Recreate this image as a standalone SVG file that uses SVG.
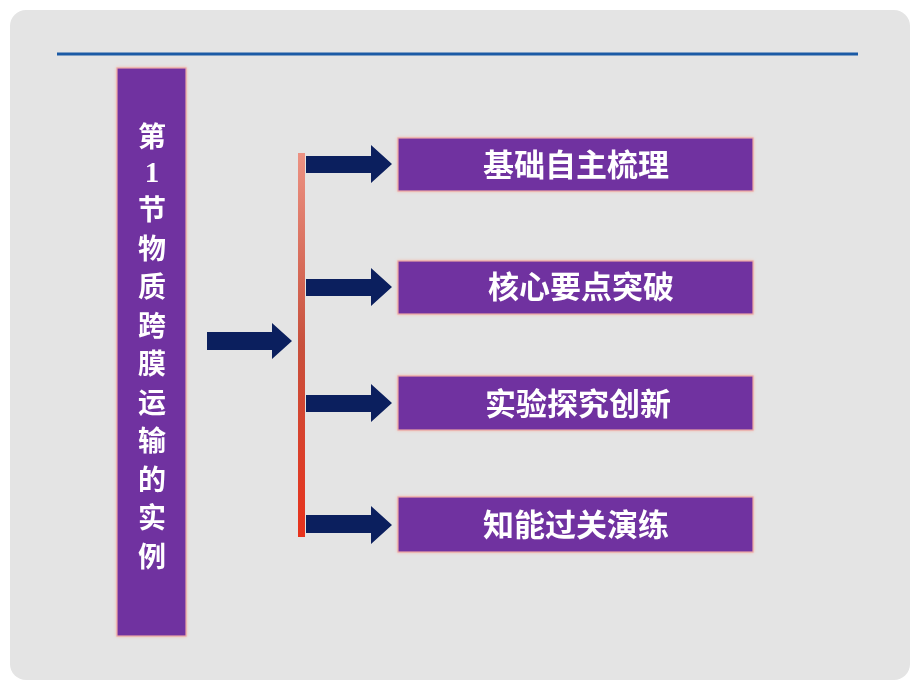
<svg xmlns="http://www.w3.org/2000/svg" width="920" height="690" viewBox="0 0 920 690">
  <defs>
    <linearGradient id="barGrad" x1="0" y1="0" x2="0" y2="1">
      <stop offset="0" stop-color="#ec9283"/>
      <stop offset="0.5" stop-color="#c8503c"/>
      <stop offset="1" stop-color="#e8321c"/>
    </linearGradient>
    <filter id="glow" x="-10%" y="-10%" width="120%" height="120%">
      <feGaussianBlur in="SourceAlpha" stdDeviation="1.5" result="b"/>
      <feFlood flood-color="#f4b8a8" result="c"/>
      <feComposite in="c" in2="b" operator="in" result="g"/>
      <feMerge><feMergeNode in="g"/><feMergeNode in="SourceGraphic"/></feMerge>
    </filter>
  </defs>
  <style>
    .box { fill: #7030a0; stroke: #e9a6a6; stroke-width: 1.2; }
    .arrow { fill: #0b1f5e; }
    .label { fill: #ffffff; font-family: "Noto Sans CJK SC", "Noto Sans", sans-serif; font-weight: bold; font-size: 31px; text-anchor: middle; }
    .vtext { fill: #ffffff; font-family: "Noto Sans CJK SC", sans-serif; font-weight: bold; font-size: 28px; text-anchor: middle; }
    .vdigit { fill: #ffffff; font-family: "Liberation Serif", serif; font-weight: bold; font-size: 29px; text-anchor: middle; }
  </style>

  <rect x="0" y="0" width="920" height="690" fill="#ffffff"/>
  <rect x="10" y="10" width="900" height="670" rx="16" ry="16" fill="#e4e4e4"/>

  <line x1="57" y1="54" x2="858" y2="54" stroke="#1b5aa5" stroke-width="3"/>

  <g id="title" filter="url(#glow)">
    <rect class="box" x="117" y="68" width="69" height="568"/>
    <text class="vtext" x="152" y="147">第</text>
    <text class="vdigit" x="152" y="182">1</text>
    <text class="vtext" x="152" y="220">节</text>
    <text class="vtext" x="152" y="259">物</text>
    <text class="vtext" x="152" y="297">质</text>
    <text class="vtext" x="152" y="336">跨</text>
    <text class="vtext" x="152" y="374">膜</text>
    <text class="vtext" x="152" y="413">运</text>
    <text class="vtext" x="152" y="451">输</text>
    <text class="vtext" x="152" y="490">的</text>
    <text class="vtext" x="152" y="528">实</text>
    <text class="vtext" x="152" y="567">例</text>
  </g>

  <g id="connectors">
    <rect x="298" y="153" width="7" height="384" fill="url(#barGrad)"/>
    <polygon class="arrow" points="207,332 272,332 272,323 292,341 272,359 272,350 207,350"/>
    <polygon class="arrow" points="306,156 371,156 371,145 392,164 371,183 371,173 306,173"/>
    <polygon class="arrow" points="306,279 371,279 371,268 392,287 371,306 371,296 306,296"/>
    <polygon class="arrow" points="306,395 371,395 371,384 392,403 371,422 371,412 306,412"/>
    <polygon class="arrow" points="306,515 371,515 371,506 392,525 371,544 371,533 306,533"/>
  </g>

  <g id="node1" filter="url(#glow)">
    <rect class="box" x="398" y="138" width="355" height="53"/>
    <text class="label" x="576" y="176">基础自主梳理</text>
  </g>
  <g id="node2" filter="url(#glow)">
    <rect class="box" x="398" y="261" width="355" height="53"/>
    <text class="label" x="581" y="298">核心要点突破</text>
  </g>
  <g id="node3" filter="url(#glow)">
    <rect class="box" x="398" y="376" width="355" height="54"/>
    <text class="label" x="578" y="415">实验探究创新</text>
  </g>
  <g id="node4" filter="url(#glow)">
    <rect class="box" x="398" y="497" width="355" height="55"/>
    <text class="label" x="576" y="536">知能过关演练</text>
  </g>
</svg>
